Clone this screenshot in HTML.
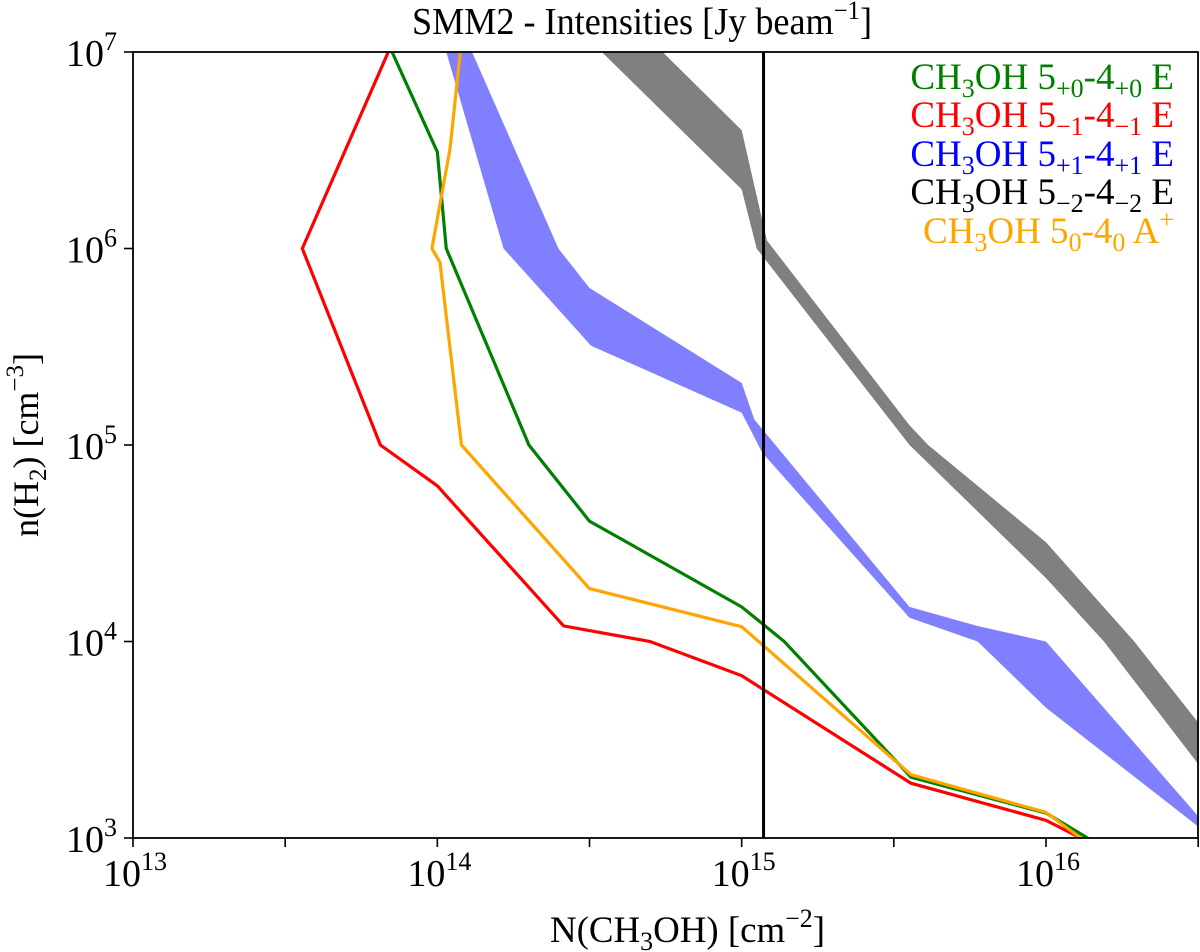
<!DOCTYPE html>
<html><head><meta charset="utf-8"><style>
html,body{margin:0;padding:0;background:#fff;}
svg{display:block;font-family:"Liberation Serif",serif;}
</style></head><body>
<svg id="chart" width="1200" height="952" xmlns="http://www.w3.org/2000/svg">
<text x="412" y="34" font-size="38" textLength="460" lengthAdjust="spacingAndGlyphs">SMM2 - Intensities [Jy beam<tspan dy="-15" font-size="26">−1</tspan><tspan dy="15">]</tspan></text>
<text x="550" y="942" font-size="37" textLength="275" lengthAdjust="spacingAndGlyphs">N(CH<tspan dy="8" font-size="26">3</tspan><tspan dy="-8">OH) [cm</tspan><tspan dy="-15" font-size="26">−2</tspan><tspan dy="15">]</tspan></text>
<text transform="translate(38,445) rotate(-90)" font-size="36" text-anchor="middle">n(H<tspan dy="8" font-size="25">2</tspan><tspan dy="-8">) [cm</tspan><tspan dy="-15" font-size="25">−3</tspan><tspan dy="15">]</tspan></text>
<defs><clipPath id="clip"><rect x="133" y="52" width="1065" height="786"/></clipPath></defs>
<g id="bands" clip-path="url(#clip)"></g>
<g id="lines" clip-path="url(#clip)"></g>
<g id="axes"></g>
<g font-size="37" text-anchor="end">
<text x="1174" y="89" fill="#008000">CH<tspan dy="8" font-size="26">3</tspan><tspan dy="-8">OH 5</tspan><tspan dy="8" font-size="26">+0</tspan><tspan dy="-8">-4</tspan><tspan dy="8" font-size="26">+0</tspan><tspan dy="-8"> E</tspan></text>
<text x="1174" y="127" fill="#ff0000">CH<tspan dy="8" font-size="26">3</tspan><tspan dy="-8">OH 5</tspan><tspan dy="8" font-size="26">−1</tspan><tspan dy="-8">-4</tspan><tspan dy="8" font-size="26">−1</tspan><tspan dy="-8"> E</tspan></text>
<text x="1174" y="166" fill="#0000ff">CH<tspan dy="8" font-size="26">3</tspan><tspan dy="-8">OH 5</tspan><tspan dy="8" font-size="26">+1</tspan><tspan dy="-8">-4</tspan><tspan dy="8" font-size="26">+1</tspan><tspan dy="-8"> E</tspan></text>
<text x="1174" y="204" fill="#000000">CH<tspan dy="8" font-size="26">3</tspan><tspan dy="-8">OH 5</tspan><tspan dy="8" font-size="26">−2</tspan><tspan dy="-8">-4</tspan><tspan dy="8" font-size="26">−2</tspan><tspan dy="-8"> E</tspan></text>
<text x="1174" y="243" fill="#ffa500">CH<tspan dy="8" font-size="26">3</tspan><tspan dy="-8">OH 5</tspan><tspan dy="8" font-size="26">0</tspan><tspan dy="-8">-4</tspan><tspan dy="8" font-size="26">0</tspan><tspan dy="-8"> A</tspan><tspan dy="-15" font-size="26">+</tspan></text>
</g>
</svg>
<script>
const xTickExps = [13, 14, 15, 16];
const yTickExps = [3, 4, 5, 6, 7];
const redX = [6.9e13, 3.6e13, 6.5e13, 1e14, 2.6e14, 5e14, 1e15, 3.6e15, 1e16, 1.3e16];
const redY = [1e7, 1e6, 1e5, 6.2e4, 1.2e4, 1e4, 6.7e3, 1.9e3, 1.23e3, 1e3];
const greenX = [7.1e13, 1e14, 1.07e14, 2e14, 3.16e14, 1e15, 1.38e15, 3.6e15, 1e16, 1.37e16];
const greenY = [1e7, 3.1e6, 1e6, 1e5, 4.1e4, 1.5e4, 1e4, 2.04e3, 1.34e3, 1e3];
const orangeX = [1.19e14, 1.1e14, 9.6e13, 1.02e14, 1.2e14, 3.16e14, 1e15, 3.6e15, 1e16, 1.3e16];
const orangeY = [1e7, 3.2e6, 1e6, 8.5e5, 1e5, 1.86e4, 1.19e4, 2.1e3, 1.35e3, 1e3];
const blueLoX = [1.07e14, 1.65e14, 3.2e14, 1e15, 1.17e15, 3.56e15, 5.96e15, 1e16, 3.15e16];
const blueLoY = [1e7, 1e6, 3.2e5, 1.46e5, 9.1e4, 1.32e4, 1e4, 4.6e3, 1.15e3];
const blueHiX = [1.3e14, 2.5e14, 3.16e14, 1e15, 1.1e15, 3.56e15, 5.96e15, 1e16, 3.15e16];
const blueHiY = [1e7, 1e6, 6.3e5, 2.07e5, 1.35e5, 1.5e4, 1.2e4, 1e4, 1.3e3];
const grayLoX = [3.47e14, 1e15, 1.12e15, 3.56e15, 1e16, 1.55e16, 3.15e16];
const grayLoY = [1e7, 2e6, 1e6, 1e5, 2.1e4, 1e4, 2.4e3];
const grayHiX = [5.5e14, 1e15, 1.21e15, 3.56e15, 4.1e15, 1e16, 1.95e16, 3.15e16];
const grayHiY = [1e7, 4e6, 1.1e6, 1.26e5, 1e5, 3.2e4, 1e4, 3.9e3];
const vlineX = [1.18e15];

const X0=133, X1=1198, Y0=52, Y1=838;
const xPerDec = (1046-133)/3, yPerDec = (838-52)/4;
const sx = v => X0 + (Math.log10(v)-13)*xPerDec;
const sy = v => Y1 - (Math.log10(v)-3)*yPerDec;
const NS="http://www.w3.org/2000/svg";
function mk(tag, attrs, parent){const e=document.createElementNS(NS,tag);for(const k in attrs)e.setAttribute(k,attrs[k]);parent.appendChild(e);return e;}
const bands=document.getElementById('bands'), lines=document.getElementById('lines'), axes=document.getElementById('axes');

function band(lx,ly,hx,hy,color,name){
  const pts=[];
  for(let i=0;i<lx.length;i++)pts.push(sx(lx[i])+','+sy(ly[i]));
  for(let i=hx.length-1;i>=0;i--)pts.push(sx(hx[i])+','+sy(hy[i]));
  const p=mk('polygon',{points:pts.join(' '),fill:color,stroke:'none'},bands);
  
  
}
band(grayLoX,grayLoY,grayHiX,grayHiY,'#808080','band-5m2');
band(blueLoX,blueLoY,blueHiX,blueHiY,'#8080ff','band-5p1');

function line(xs,ys,color,name){
  const pts=xs.map((x,i)=>sx(x)+','+sy(ys[i])).join(' ');
  const p=mk('polyline',{points:pts,fill:'none',stroke:color,'stroke-width':3.2,'stroke-linejoin':'miter'},lines);
  
  
}
line(redX,redY,'#ff0000','line-5m1');
line(greenX,greenY,'#008000','line-5p0');
line(orangeX,orangeY,'#ffa500','line-50a');
const vl=mk('line',{x1:sx(vlineX[0]),x2:sx(vlineX[0]),y1:Y0,y2:Y1,stroke:'#000','stroke-width':3},lines);



const fr=mk('rect',{x:X0,y:Y0,width:X1-X0,height:Y1-Y0,fill:'none',stroke:'#000','stroke-width':1.8},axes);


for(let d=13; d<=16.5; d+=0.5){
  const x=sx(Math.pow(10,d)); if(x>X1+0.5)break;
  mk('line',{x1:x,x2:x,y1:Y1,y2:Y1+9,stroke:'#000','stroke-width':1.6},axes);
}
xTickExps.forEach(e=>{
  const t=mk('text',{x:sx(Math.pow(10,e))-30,y:Y1+48,'font-size':38},axes);
  
  
  t.textContent='10';
  const s=mk('tspan',{dy:-16,'font-size':26},t); s.textContent=String(e);
});
yTickExps.forEach(e=>{
  const y=sy(Math.pow(10,e));
  mk('line',{x1:X0-9,x2:X0,y1:y,y2:y,stroke:'#000','stroke-width':1.6},axes);
  const t=mk('text',{x:X0-16,y:y+14,'font-size':38,'text-anchor':'end'},axes);
  
  
  t.textContent='10';
  const s=mk('tspan',{dy:-16,'font-size':26},t); s.textContent=String(e);
});
</script>
</body></html>
